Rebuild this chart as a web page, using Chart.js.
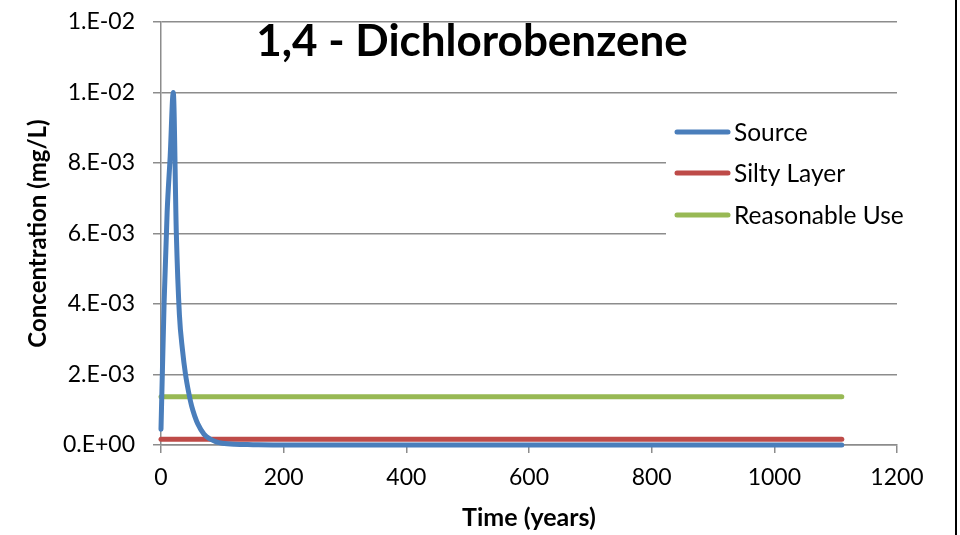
<!DOCTYPE html>
<html lang="en">
<head>
    <meta charset="UTF-8">
    <title>1,4 - Dichlorobenzene</title>
    <script src="https://cdn.jsdelivr.net/npm/chart.js"></script>
    <style>
        body {
            margin: 0;
            background: #fff;
        }
        .wrap {
            position: relative;
            width: 960px;
            height: 535px;
        }
        .edge {
            position: absolute;
            left: 955px;
            top: 0;
            width: 2px;
            height: 535px;
            background: #000;
        }
    </style>
</head>
<body>
    <div class="wrap">
        <canvas id="chart" width="960" height="535"></canvas>
        <div class="edge"></div>
    </div>

    <script>
        // values
        const years = [0, 5, 10, 15, 20, 25, 30, 35, 40, 45, 50, 55, 60, 70, 80, 90, 100, 120, 150, 200, 400, 600, 800, 1000, 1110];
        const source = [0.00045, 0.0040, 0.0066, 0.0082, 0.0100, 0.0060, 0.0037, 0.0027, 0.0020, 0.0015, 0.0011, 0.00082, 0.00060, 0.00031, 0.00017, 0.00009, 0.00005, 0.00002, 0.00001, 0, 0, 0, 0, 0, 0];
        const flatYears = [0, 1110];
        const siltyLayer = [0.00016, 0.00016];
        const reasonableUse = [0.00137, 0.00137];
        const seriesNames = ['Source', 'Silty Layer', 'Reasonable Use'];
        const seriesColors = ['#4a7ebb', '#be4b48', '#98b954'];

        const pts = (xs, ys) => xs.map((x, i) => ({ x: x, y: ys[i] }));

        // Excel style "0.E+00"
        function sciLabel(v) {
            if (Math.abs(v) < 1e-12) return '0.E+00';
            let exp = Math.floor(Math.log10(v) + 1e-9);
            let mant = Math.round(v / Math.pow(10, exp));
            if (mant >= 10) { mant = 1; exp += 1; }
            const sign = exp < 0 ? '-' : '+';
            const e = String(Math.abs(exp)).padStart(2, '0');
            return mant + '.E' + sign + e;
        }

        const extras = {
            id: 'extras',
            afterDraw(chart) {
                const ctx = chart.ctx;
                ctx.save();
                // title
                ctx.fillStyle = '#000';
                ctx.font = 'bold 44px Lato';
                ctx.textAlign = 'center';
                ctx.textBaseline = 'alphabetic';
                ctx.fillText('1,4 - Dichlorobenzene', 472, 56);

                // legend inside the plot
                ctx.fillStyle = '#fff';
                ctx.fillRect(666, 106, 246, 134);
                ctx.font = '24.5px Lato';
                ctx.textAlign = 'left';
                ctx.textBaseline = 'middle';
                ctx.lineCap = 'round';
                ctx.lineWidth = 5;
                const rows = [132, 173, 215];
                seriesNames.forEach((name, i) => {
                    ctx.strokeStyle = seriesColors[i];
                    ctx.beginPath();
                    ctx.moveTo(677, rows[i]);
                    ctx.lineTo(728, rows[i]);
                    ctx.stroke();
                    ctx.fillStyle = '#000';
                    ctx.fillText(name, 734, rows[i] + 1);
                });
                ctx.restore();
            }
        };

        const lineStyle = {
            borderWidth: 5,
            pointRadius: 0,
            fill: false,
            clip: false,
            borderCapStyle: 'round',
            borderJoinStyle: 'round'
        };

        new Chart(document.getElementById('chart').getContext('2d'), {
            type: 'line',
            data: {
                datasets: [
                    Object.assign({
                        label: seriesNames[0],
                        data: pts(years, source),
                        borderColor: seriesColors[0],
                        cubicInterpolationMode: 'monotone'
                    }, lineStyle),
                    Object.assign({
                        label: seriesNames[1],
                        data: pts(flatYears, siltyLayer),
                        borderColor: seriesColors[1]
                    }, lineStyle),
                    Object.assign({
                        label: seriesNames[2],
                        data: pts(flatYears, reasonableUse),
                        borderColor: seriesColors[2]
                    }, lineStyle)
                ]
            },
            options: {
                responsive: false,
                animation: false,
                layout: { padding: { top: 22, right: 63, left: 0, bottom: 0 } },
                plugins: {
                    legend: { display: false },
                    tooltip: { enabled: false }
                },
                scales: {
                    x: {
                        type: 'linear',
                        min: 0,
                        max: 1200,
                        afterFit: s => {
                            s.height = 90;
                            s.paddingLeft = 0;
                            s.paddingRight = 0;
                        },
                        ticks: {
                            stepSize: 200,
                            color: '#000',
                            padding: 11,
                            maxRotation: 0,
                            font: { family: 'Lato', size: 23 },
                            callback: v => String(v)
                        },
                        grid: {
                            drawOnChartArea: false,
                            tickLength: 8,
                            color: '#8c8c8c',
                            lineWidth: 1.5
                        },
                        border: { color: '#8c8c8c', width: 1.5 },
                        title: {
                            display: true,
                            text: 'Time (years)',
                            color: '#000',
                            padding: { top: 0, bottom: 2 },
                            font: { family: 'Lato', size: 25, weight: 'bold' }
                        }
                    },
                    y: {
                        min: 0,
                        max: 0.012,
                        afterFit: s => {
                            s.width = 161;
                            s.paddingTop = 0;
                            s.paddingBottom = 0;
                        },
                        ticks: {
                            stepSize: 0.002,
                            color: '#000',
                            padding: 18,
                            font: { family: 'Lato', size: 23 },
                            callback: v => sciLabel(v)
                        },
                        grid: {
                            tickLength: 8,
                            color: '#8c8c8c',
                            lineWidth: 1.5
                        },
                        border: { color: '#8c8c8c', width: 1.5 },
                        title: {
                            display: true,
                            text: 'Concentration (mg/L)',
                            color: '#000',
                            padding: { top: 24, bottom: 0 },
                            font: { family: 'Lato', size: 24, weight: 'bold' }
                        }
                    }
                }
            },
            plugins: [extras]
        });
    </script>
</body>
</html>
